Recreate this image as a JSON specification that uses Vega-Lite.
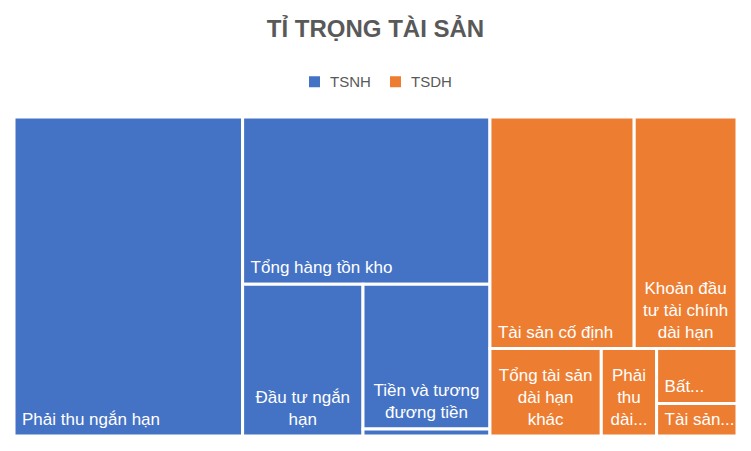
{
  "$schema": "https://vega.github.io/schema/vega-lite/v6.json",
  "width": 723,
  "height": 319,
  "padding": {"left": 12, "right": 15, "top": 18, "bottom": 15},
  "background": "white",
  "title": {"text": "TỈ TRỌNG TÀI SẢN", "fontSize": 24, "font": "Liberation Sans", "fontWeight": "bold", "color": "#595959", "anchor": "middle", "offset": 32},
  "config": {"view": {"stroke": null}, "font": "Liberation Sans"},
  "data": {"values": [
    {"name": "Phải thu ngắn hạn", "group": "TSNH", "value": 31.6, "label": "Phải thu ngắn hạn", "x0": 0, "x1": 31.62, "y0": 0, "y1": 100},
    {"name": "Tổng hàng tồn kho", "group": "TSNH", "value": 17.9, "label": "Tổng hàng tồn kho", "x0": 31.62, "x1": 65.83, "y0": 0, "y1": 52.42},
    {"name": "Đầu tư ngắn hạn", "group": "TSNH", "value": 7.9, "label": "Đầu tư ngắn\nhạn", "x0": 31.62, "x1": 48.27, "y0": 52.42, "y1": 100},
    {"name": "Tiền và tương đương tiền", "group": "TSNH", "value": 8.0, "label": "Tiền và tương\nđương tiền", "x0": 48.27, "x1": 65.83, "y0": 52.42, "y1": 97.8},
    {"name": "Tài sản ngắn hạn khác", "group": "TSNH", "value": 0.4, "label": "", "x0": 48.27, "x1": 65.83, "y0": 97.8, "y1": 100},
    {"name": "Tài sản cố định", "group": "TSDH", "value": 14.5, "label": "Tài sản cố định", "x0": 65.83, "x1": 85.78, "y0": 0, "y1": 72.58},
    {"name": "Khoản đầu tư tài chính dài hạn", "group": "TSDH", "value": 10.3, "label": "Khoản đầu\ntư tài chính\ndài hạn", "x0": 85.78, "x1": 100, "y0": 0, "y1": 72.58},
    {"name": "Tổng tài sản dài hạn khác", "group": "TSDH", "value": 4.2, "label": "Tổng tài sản\ndài hạn\nkhác", "x0": 65.83, "x1": 81.23, "y0": 72.58, "y1": 100},
    {"name": "Phải thu dài hạn", "group": "TSDH", "value": 2.1, "label": "Phải\nthu\ndài...", "x0": 81.23, "x1": 88.88, "y0": 72.58, "y1": 100},
    {"name": "Bất động sản đầu tư", "group": "TSDH", "value": 1.9, "label": "Bất...", "x0": 88.88, "x1": 100, "y0": 72.58, "y1": 89.78},
    {"name": "Tài sản dở dang dài hạn", "group": "TSDH", "value": 1.1, "label": "Tài sản...", "x0": 88.88, "x1": 100, "y0": 89.78, "y1": 100}
  ]},
  "layer": [
    {
      "mark": {"type": "rect", "stroke": "white", "strokeWidth": 3},
      "encoding": {
        "x": {"field": "x0", "type": "quantitative", "scale": {"domain": [0, 100], "nice": false, "zero": false}, "axis": null},
        "x2": {"field": "x1"},
        "y": {"field": "y0", "type": "quantitative", "scale": {"domain": [0, 100], "nice": false, "zero": false, "reverse": true}, "axis": null},
        "y2": {"field": "y1"},
        "color": {"field": "group", "type": "nominal", "scale": {"domain": ["TSNH", "TSDH"], "range": ["#4472C4", "#ED7D31"]},
          "legend": {"title": null, "orient": "none", "legendX": 293, "legendY": -43, "padding": 0, "direction": "horizontal", "symbolType": "square", "symbolSize": 121, "labelFontSize": 15, "labelColor": "#595959", "labelFont": "Liberation Sans", "columnPadding": 17, "labelOffset": 8, "symbolStrokeWidth": 0}},
        "tooltip": [{"field": "name", "type": "nominal"}, {"field": "value", "type": "quantitative"}]
      }
    },
    {
      "transform": [{"filter": "indexof(datum.label, '\\n') < 0 && datum.label != ''"}],
      "mark": {"type": "text", "align": "left", "baseline": "bottom", "dx": 8, "dy": -7, "fontSize": 17, "color": "white", "font": "Liberation Sans"},
      "encoding": {
        "x": {"field": "x0", "type": "quantitative"},
        "y": {"field": "y1", "type": "quantitative"},
        "text": {"field": "label", "type": "nominal"}
      }
    },
    {
      "transform": [
        {"filter": "length(split(datum.label, '\\n')) == 2"},
        {"fold": ["x0", "x1"], "as": ["edge", "xv"]},
        {"aggregate": [{"op": "mean", "field": "xv", "as": "xc"}, {"op": "max", "field": "y1", "as": "yb"}], "groupby": ["label"]}
      ],
      "mark": {"type": "text", "align": "center", "baseline": "bottom", "lineBreak": "\n", "lineHeight": 22, "dy": -29, "fontSize": 17, "color": "white", "font": "Liberation Sans"},
      "encoding": {
        "x": {"field": "xc", "type": "quantitative"},
        "y": {"field": "yb", "type": "quantitative"},
        "text": {"field": "label", "type": "nominal"}
      }
    },
    {
      "transform": [
        {"filter": "length(split(datum.label, '\\n')) == 3"},
        {"fold": ["x0", "x1"], "as": ["edge", "xv"]},
        {"aggregate": [{"op": "mean", "field": "xv", "as": "xc"}, {"op": "max", "field": "y1", "as": "yb"}], "groupby": ["label"]}
      ],
      "mark": {"type": "text", "align": "center", "baseline": "bottom", "lineBreak": "\n", "lineHeight": 22, "dy": -51, "fontSize": 17, "color": "white", "font": "Liberation Sans"},
      "encoding": {
        "x": {"field": "xc", "type": "quantitative"},
        "y": {"field": "yb", "type": "quantitative"},
        "text": {"field": "label", "type": "nominal"}
      }
    }
  ]
}
